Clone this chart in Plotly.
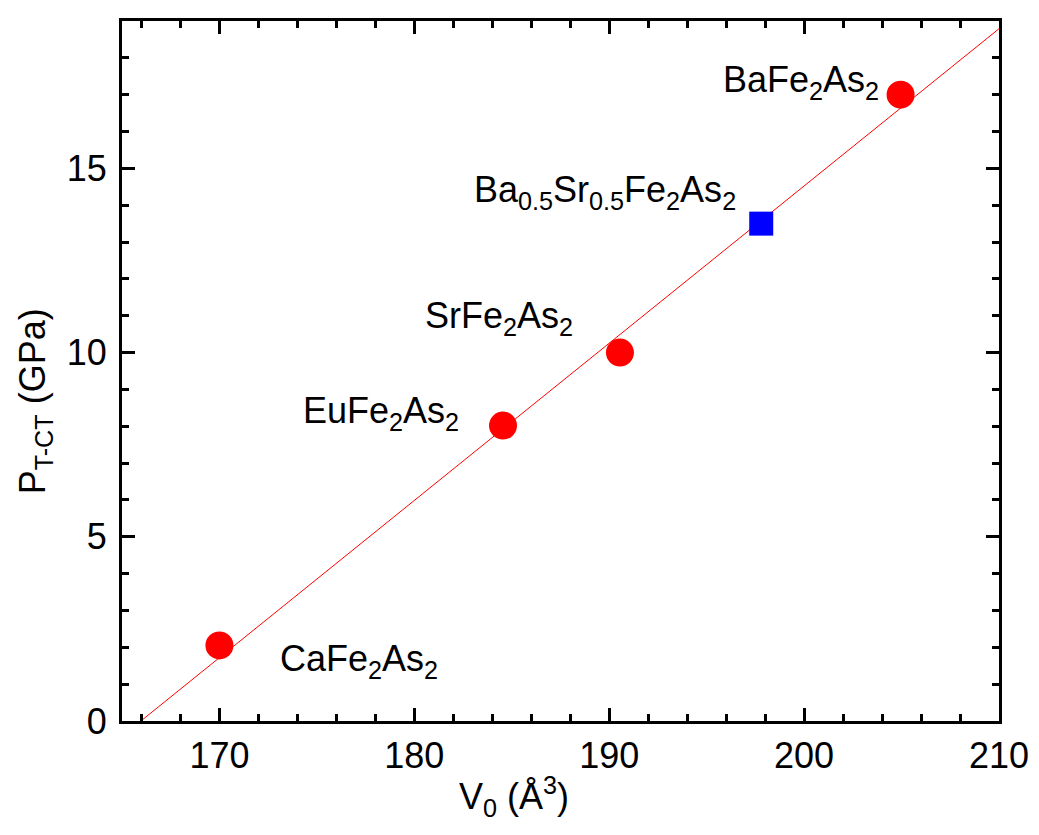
import plotly.graph_objects as go

# ---- data ----
compounds = ["CaFe<sub>2</sub>As<sub>2</sub>", "EuFe<sub>2</sub>As<sub>2</sub>",
             "SrFe<sub>2</sub>As<sub>2</sub>", "BaFe<sub>2</sub>As<sub>2</sub>"]
v0_122 = [170.0, 184.55, 190.55, 204.95]
p_122 = [2.05, 8.02, 10.0, 17.0]

mixed_label = ["Ba<sub>0.5</sub>Sr<sub>0.5</sub>Fe<sub>2</sub>As<sub>2</sub>"]
v0_mixed = [197.8]
p_mixed = [13.5]

fit_v = [165.97, 210.0]
fit_p = [0.0, 18.79]

x_ticks = [170, 180, 190, 200, 210]
y_ticks = [0, 5, 10, 15]

# label positions (data coords, left edge / vertical middle of caps)
label_x = [173.0, 174.2, 180.45, 195.75]
label_y = [1.62, 8.35, 10.93, 17.34]
mixed_label_pos = (182.95, 14.35)

FONT = "Liberation Sans, Arial, sans-serif"
FS = 36

fig = go.Figure()
fig.add_trace(go.Scatter(x=fit_v, y=fit_p, mode="lines",
                         line=dict(color="#FF0000", width=1), showlegend=False,
                         hoverinfo="skip"))
fig.add_trace(go.Scatter(x=v0_122, y=p_122, mode="markers",
                         marker=dict(symbol="circle", size=28, color="#FF0000",
                                     line=dict(width=0)),
                         showlegend=False))
fig.add_trace(go.Scatter(x=v0_mixed, y=p_mixed, mode="markers",
                         marker=dict(symbol="square", size=24, color="#0000FF",
                                     line=dict(width=0)),
                         showlegend=False))

annotations = []
for txt, lx, ly in zip(compounds, label_x, label_y):
    annotations.append(dict(x=lx, y=ly, xref="x", yref="y", text=txt,
                            showarrow=False, xanchor="left", yanchor="middle",
                            font=dict(family=FONT, size=FS, color="black")))
annotations.append(dict(x=mixed_label_pos[0], y=mixed_label_pos[1], xref="x", yref="y",
                        text=mixed_label[0], showarrow=False, xanchor="left",
                        yanchor="middle",
                        font=dict(family=FONT, size=FS, color="black")))
# axis titles
annotations.append(dict(x=0.447, y=-0.108, xref="paper", yref="paper",
                        text="V<sub>0</sub> (Å<sup>3</sup>)", showarrow=False,
                        xanchor="center", yanchor="middle",
                        font=dict(family=FONT, size=FS, color="black")))
annotations.append(dict(x=-0.099, y=0.457, xref="paper", yref="paper",
                        text="P<sub>T-CT</sub> (GPa)", showarrow=False, textangle=-90,
                        xanchor="center", yanchor="middle",
                        font=dict(family=FONT, size=FS, color="black")))

axis_common = dict(showline=True, linewidth=3, linecolor="black", mirror="allticks",
                   ticks="inside", ticklen=13, tickwidth=2.5, tickcolor="black",
                   showgrid=False, zeroline=False,
                   tickfont=dict(family=FONT, size=FS, color="black"))

# page body has an 8px margin; figure sized so the plot area lands where the reference has it
fig.update_layout(
    width=1031, height=827,
    margin=dict(l=114, r=38, t=10, b=114),
    paper_bgcolor="white", plot_bgcolor="white",
    annotations=annotations,
    xaxis=dict(range=[165, 210], tickvals=x_ticks,
               minor=dict(dtick=2, ticks="inside", ticklen=7, tickwidth=2.5,
                          tickcolor="black", showgrid=False),
               ticklabelstandoff=1, **axis_common),
    yaxis=dict(range=[0, 19], tickvals=y_ticks,
               minor=dict(dtick=1, ticks="inside", ticklen=7, tickwidth=2.5,
                          tickcolor="black", showgrid=False),
               ticklabelstandoff=5, **axis_common),
)

fig.write_html("out.html")
